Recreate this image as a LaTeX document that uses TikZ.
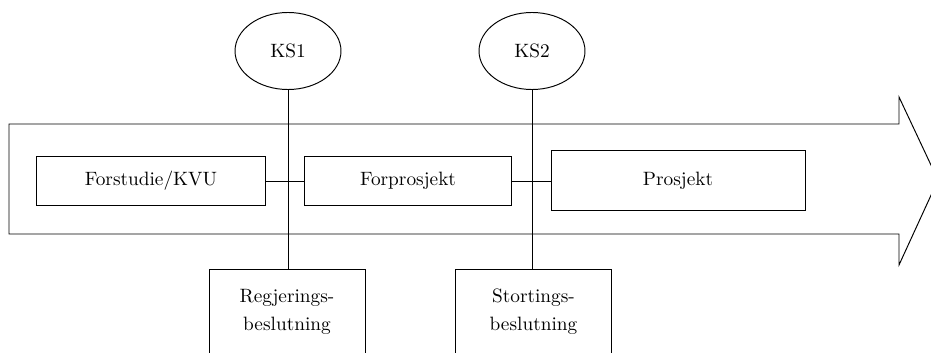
\documentclass[tikz,border=0pt]{standalone}
\usetikzlibrary{shapes.geometric}
\begin{document}
\begin{tikzpicture}[x=0.518pt,y=-0.518pt,
  phasebox/.style={draw,rectangle,inner sep=0pt},
  ksnode/.style={draw,ellipse,minimum width=54.9pt,minimum height=39.9pt,inner sep=0pt},
  lowbox/.style={draw,rectangle,inner sep=0pt,minimum width=80.8pt,minimum height=80pt,anchor=north},
  lowtext/.style={align=center,anchor=north,inner sep=0pt},
  line width=0.5pt]
\useasboundingbox (0,0) rectangle (931,353);
\clip (0,0) rectangle (931,353);
% big arrow
\draw (9,124) -- (899,124) -- (899,97) -- (938,180) -- (899,265) -- (899,234) -- (9,234) -- cycle;
% phase boxes
\node[phasebox,minimum width=119.1pt,minimum height=25.4pt] (fks) at (151,181) {Forstudie/KVU};
\node[phasebox,minimum width=107.7pt,minimum height=25.4pt] (fp) at (408,181) {Forprosjekt};
\node[phasebox,minimum width=131.6pt,minimum height=30.6pt] (pr) at (678,180.5) {Prosjekt};
% decision points
\node[ksnode] (ks1) at (288,51) {KS1};
\node[ksnode] (ks2) at (532,51) {KS2};
% bottom boxes
\node[lowbox] (reg) at (287,269) {};
\node[lowbox] (sto) at (533.5,269) {};
\node[lowtext] (regt) at ([yshift=-10.2pt]reg.north) {Regjerings-\\[2.5pt]beslutning};
\node[lowtext] (stot) at ([yshift=-10.2pt]sto.north) {Stortings-\\[2.5pt]beslutning};
% connectors
\draw (ks1.south) -- (ks1.south |- reg.north);
\draw (ks2.south) -- (ks2.south |- sto.north);
\draw (fks.east) -- (fp.west);
\draw (fp.east) -- (fp.east -| pr.west);
\end{tikzpicture}
\end{document}
